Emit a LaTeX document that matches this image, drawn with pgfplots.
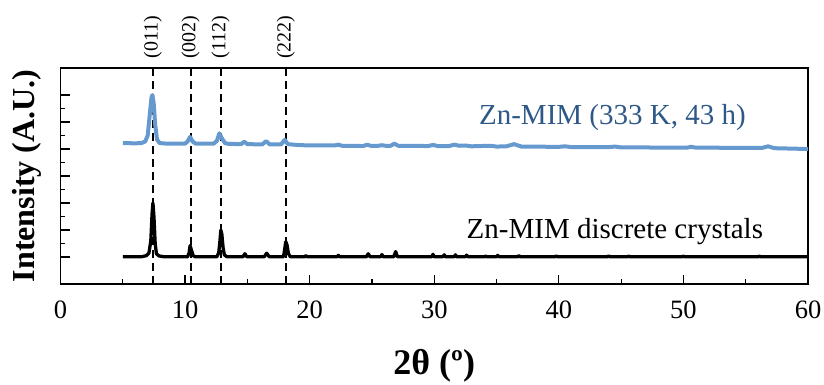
\documentclass[border=0pt]{standalone}
\usepackage{pgfplots}
\pgfplotsset{compat=1.18}
\usepackage{fontspec}
\setmainfont{Liberation Serif}
\definecolor{lineblue}{RGB}{102,153,206}
\definecolor{textblue}{RGB}{46,88,135}
\begin{document}
\begin{tikzpicture}
\useasboundingbox (-60.5pt,-101pt) rectangle (763.5pt,284pt);
\begin{axis}[
  scale only axis,
  width=747.5pt, height=216pt,
  xmin=0, xmax=60, ymin=0, ymax=8,
  clip=false,
  axis line style={line width=1.5pt},
  xtick={0,10,...,60},
  minor x tick num=1,
  ytick={1,2,...,7},
  yticklabels={},
  minor y tick num=1,
  tick align=inside,
  xtick pos=bottom, ytick pos=left,
  major tick length=9pt, minor tick length=5pt,
  tick style={line width=1.2pt, black},
  /pgf/number format/assume math mode=true,
  xticklabel style={font=\fontsize{26.5}{30}\selectfont, yshift=-13pt},
]
\foreach \xx in {7.4,10.45,12.85,18.08}{
  \edef\temp{\noexpand\draw[black, line width=2pt, dash pattern=on 8pt off 5pt] (axis cs:\xx,8) -- (axis cs:\xx,0);}
  \temp
}
\addplot[black, line width=3.3pt, line join=round] coordinates {
(5,1.01)(6.5,1.01)(6.9,1.05)(7.1,1.15)(7.25,1.6)(7.35,2.6)(7.42,3.0)(7.5,2.5)(7.6,1.5)(7.7,1.12)(7.9,1.04)(8.3,1.01)
(10.2,1.01)(10.32,1.15)(10.4,1.42)(10.48,1.3)(10.55,1.2)(10.65,1.05)(10.8,1.01)
(12.55,1.01)(12.7,1.15)(12.8,1.6)(12.87,2.0)(12.95,1.85)(13.05,1.35)(13.15,1.08)(13.35,1.01)
(14.65,1.01)(14.8,1.12)(14.95,1.01)(16.35,1.01)(16.55,1.14)(16.75,1.01)
(17.9,1.01)(18.0,1.3)(18.08,1.57)(18.18,1.45)(18.3,1.12)(18.45,1.01)
(19.6,1.01)(19.7,1.05)(19.8,1.01)(22.2,1.01)(22.3,1.06)(22.4,1.01)
(24.55,1.01)(24.7,1.12)(24.85,1.01)(25.7,1.01)(25.8,1.09)(25.9,1.01)
(26.75,1.01)(26.9,1.2)(27.05,1.01)(29.8,1.01)(29.9,1.1)(30.0,1.01)
(30.7,1.01)(30.8,1.08)(30.9,1.01)(31.6,1.01)(31.7,1.08)(31.8,1.01)
(32.5,1.01)(32.6,1.07)(32.7,1.01)(34.05,1.01)(34.1,1.04)(34.2,1.01)
(35.0,1.01)(35.1,1.06)(35.2,1.01)(36.7,1.01)(36.8,1.05)(36.9,1.01)
(39.7,1.01)(39.8,1.04)(39.9,1.01)(43.9,1.01)(44,1.04)(44.1,1.01)
(45.5,1.01)(45.6,1.03)(45.7,1.01)(49.9,1.01)(50,1.03)(50.1,1.01)
(56,1.01)(56.1,1.03)(56.2,1.01)(60,1.01)
};
\addplot[lineblue, line width=4pt, line join=round] coordinates {
(5,5.22)(6.0,5.21)(6.5,5.22)(6.8,5.28)(7.0,5.5)(7.15,6.2)(7.3,6.9)(7.38,7.0)(7.48,6.7)(7.6,5.9)(7.75,5.35)(7.95,5.22)(8.5,5.2)
(10.0,5.2)(10.2,5.28)(10.4,5.45)(10.6,5.28)(10.85,5.2)
(12.3,5.2)(12.55,5.3)(12.75,5.58)(12.95,5.4)(13.2,5.22)(13.5,5.19)
(14.5,5.18)(14.75,5.27)(15.0,5.18)(16.2,5.17)(16.5,5.29)(16.8,5.17)
(17.7,5.17)(18.0,5.34)(18.25,5.18)(19,5.15)(20,5.13)(22,5.13)(22.3,5.16)(22.6,5.12)
(24.3,5.11)(24.6,5.16)(24.9,5.12)(25.5,5.12)(25.8,5.14)(26.1,5.12)(26.5,5.12)(26.8,5.2)(27.1,5.12)
(29.5,5.11)(29.9,5.15)(30.3,5.11)(31.2,5.11)(31.6,5.16)(32,5.12)(32.5,5.13)(33,5.1)
(34.5,5.12)(35,5.09)(35.8,5.1)(36.4,5.18)(37,5.09)(40,5.08)(40.5,5.1)(41,5.07)
(44,5.07)(44.5,5.09)(45,5.06)(50.3,5.05)(50.6,5.08)(51,5.05)(56.3,5.04)(56.8,5.1)(57.3,5.03)(60,5.0)
};
\node[textblue, font=\fontsize{29}{33}\selectfont] at (axis cs:44.3,6.15) {Zn-MIM (333 K, 43 h)};
\node[black, font=\fontsize{29}{33}\selectfont] at (axis cs:44.5,1.93) {Zn-MIM discrete crystals};
\node[rotate=90, font=\fontsize{20}{24}\selectfont] at (axis cs:7.4,9.14) {(011)};
\node[rotate=90, font=\fontsize{20}{24}\selectfont] at (axis cs:10.45,9.14) {(002)};
\node[rotate=90, font=\fontsize{20}{24}\selectfont] at (axis cs:12.85,9.14) {(112)};
\node[rotate=90, font=\fontsize{20}{24}\selectfont] at (axis cs:18.08,9.14) {(222)};
\node[rotate=90, font=\fontsize{32}{36}\bfseries] at (axis description cs:-0.045,0.5) {Intensity (A.U.)};
\node[font=\fontsize{36}{40}\bfseries] at (axis description cs:0.5,-0.38) {2θ (º)};
\end{axis}
\end{tikzpicture}
\end{document}
